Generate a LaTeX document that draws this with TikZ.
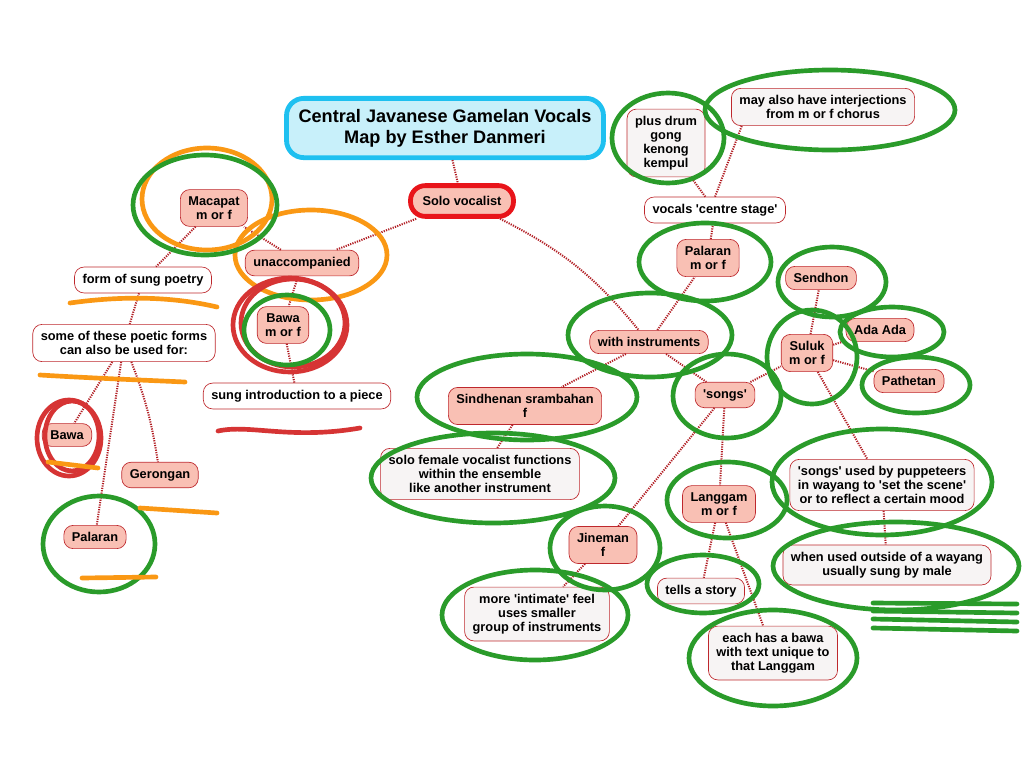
\documentclass[tikz,border=0pt]{standalone}
\usepackage{fontspec}
\setmainfont{Liberation Sans}
\usetikzlibrary{arrows}
\usetikzlibrary{scopes}
\definecolor{salmon}{RGB}{249,192,180}
\definecolor{boxred}{RGB}{190,40,45}
\definecolor{linkred}{RGB}{178,30,36}
\definecolor{titlefill}{RGB}{200,240,250}
\definecolor{titleblue}{RGB}{30,192,240}
\definecolor{soloborder}{RGB}{232,20,26}
\definecolor{notegrey}{RGB}{247,244,244}
\definecolor{penGreen}{RGB}{42,155,42}
\definecolor{penOrange}{RGB}{250,152,20}
\definecolor{penRed}{RGB}{214,52,52}
\newcommand{\q}{\textquotesingle}
\begin{document}
\begin{tikzpicture}[x=0.75pt,y=-0.75pt,
box/.style={draw=boxred,line width=0.5pt,rounded corners=7pt,align=center,
  font=\bfseries\fontsize{9.6}{10.5}\selectfont,inner xsep=6pt,inner ysep=5.2pt},
topic/.style={box,fill=salmon},
note/.style={box,fill=notegrey},
plain/.style={box,fill=white},
link/.style={linkred,line width=1.5pt,dash pattern=on 0.9pt off 0.9pt},
ink/.style={line width=3.5pt,line cap=round,line join=round}]
\useasboundingbox[fill=white] (0,0) rectangle (1024,768);
% The title and the centre
\node[box,draw=titleblue,fill=titlefill,line width=3.6pt,rounded corners=13pt,
  font=\bfseries\fontsize{13.6}{15.8}\selectfont,inner xsep=9pt,inner ysep=8pt] (title) at (445,128)
  {Central Javanese Gamelan Vocals\\Map by Esther Danmeri};
\node[topic,draw=soloborder,line width=3.6pt,rounded corners=11pt,inner xsep=9pt,inner ysep=8pt] (solo) at (462,201) {Solo vocalist};
% Unaccompanied side
\node[topic] (unacc) at (302,263) {unaccompanied};
\node[topic] (macapat) at (214,208) {Macapat\\m or f};
\node[plain] (form) at (143,280) {form of sung poetry};
\node[plain] (some) at (124,343) {some of these poetic forms\\can also be used for:};
\node[topic] (bawaB) at (67,435) {Bawa};
\node[topic] (gerong) at (160,475) {Gerongan};
\node[topic] (palaranB) at (95,537) {Palaran};
\node[topic] (bawaA) at (283,325) {Bawa\\m or f};
\node[plain] (intro) at (297,396) {sung introduction to a piece};
% With instruments side
\node[topic] (withi) at (649,342) {with instruments};
\node[topic] (palaranA) at (708,258) {Palaran\\m or f};
\node[plain] (vocals) at (715,210) {vocals \q centre stage\q};
\node[note] (drum) at (666,143) {plus drum\\gong\\kenong\\kempul};
\node[note] (inter) at (823,107) {may also have interjections\\from m or f chorus};
\node[topic] (sindh) at (525,406) {Sindhenan srambahan\\f};
\node[note] (solof) at (480,474) {solo female vocalist functions\\within the ensemble\\like another instrument};
\node[topic] (songs) at (725,395) {\q songs\q};
\node[topic] (jine) at (603,545) {Jineman\\f};
\node[note] (intimate) at (537,614) {more \q intimate\q\ feel\\uses smaller\\group of instruments};
\node[topic] (langgam) at (719,504) {Langgam\\m or f};
\node[note] (story) at (701,591) {tells a story};
\node[note] (bawaC) at (773,653) {each has a bawa\\with text unique to\\that Langgam};
\node[topic] (suluk) at (807,353) {Suluk\\m or f};
\node[topic] (sendhon) at (821,278) {Sendhon};
\node[topic] (adaada) at (880,330) {Ada Ada};
\node[topic] (pathet) at (909,381) {Pathetan};
\node[note] (puppet) at (882,485) {\q songs\q\ used by puppeteers\\in wayang to \q set the scene\q\\or to reflect a certain mood};
\node[note] (outside) at (887,565) {when used outside of a wayang\\usually sung by male};

% The dotted links
\draw[link] (title) -- (solo);
\draw[link] (solo) -- (unacc);
\draw[link] (solo) to[bend left=12] (withi);
\draw[link] (unacc) -- (macapat);
\draw[link] (unacc) -- (bawaA);
\draw[link] (macapat) -- (form);
\draw[link] (form) -- (some);
\draw[link] (some) -- (bawaB);
\draw[link] (some) -- (palaranB);
\draw[link] (some) to[bend left=6] (gerong);
\draw[link] (bawaA) -- (intro);
\draw[link] (withi) -- (palaranA);
\draw[link] (palaranA) -- (vocals);
\draw[link] (vocals) -- (drum);
\draw[link] (vocals.north) -- ([xshift=8pt]inter.south west);
\draw[link] (withi) -- (sindh);
\draw[link] (sindh) -- (solof);
\draw[link] (withi) -- (songs);
\draw[link] (songs) -- (jine);
\draw[link] (jine) -- (intimate);
\draw[link] (songs) -- (langgam);
\draw[link] (langgam) -- (story);
\draw[link] (langgam) -- (bawaC);
\draw[link] (songs) -- (suluk);
\draw[link] (suluk) -- (sendhon);
\draw[link] (suluk) -- (adaada);
\draw[link] (suluk) -- (pathet);
\draw[link] (suluk) -- (puppet);
\draw[link] (puppet) -- (outside);

% Hand drawn rings
\foreach \cx/\cy/\rx/\ry in {207/199/65/51, 311/255/76/45}
  \draw[ink,penOrange] (\cx,\cy) ellipse [x radius=\rx, y radius=\ry];
\foreach \cx/\cy/\rx/\ry in {290/325/57/47, 69/438/32/38}
{
  \draw[ink,penRed] (\cx,\cy) ellipse [x radius=\rx, y radius=\ry];
  \draw[ink,penRed] (\cx+3,\cy-2) ellipse [x radius=\rx-5, y radius=\ry-3];
}
\foreach \cx/\cy/\rx/\ry in {205/205/72/50, 287/330/43/35, 99/544/56/48, 668/138/56/45,
  830/110/125/40, 705/262/66/39, 832/282/54/35, 650/335/82/42, 812/357/45/47,
  892/332/52/25, 916/385/54/28, 727/396/54/42, 527/397/110/43, 493/478/122/45,
  605/548/55/42, 535/615/93/45, 727/500/60/38, 703/584/56/29, 773/658/84/48,
  882/482/110/53, 896/566/123/44}
  \draw[ink,penGreen] (\cx,\cy) ellipse [x radius=\rx, y radius=\ry];
% Underlines and scribbles
\draw[ink,penOrange] (70,303) .. controls (120,296) and (170,296) .. (217,307);
\draw[ink,penOrange] (40,375) .. controls (90,378) and (140,380) .. (185,382);
\draw[ink,penOrange] (48,462) -- (98,468);
\draw[ink,penOrange] (140,508) -- (217,513);
\draw[ink,penOrange] (82,578) -- (156,577);
\draw[ink,penRed] (218,431) .. controls (250,424) and (290,440) .. (360,428);
\foreach \ya/\yb in {603/604, 611/613, 619/622, 628/631}
  \draw[ink,penGreen] (873,\ya) -- (1017,\yb);
\end{tikzpicture}
\end{document}
